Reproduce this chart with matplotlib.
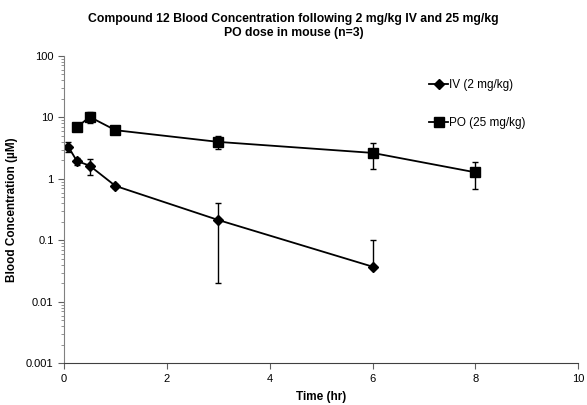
import matplotlib
matplotlib.use("Agg")
import matplotlib.pyplot as plt

plt.rcParams['font.family'] = ['Liberation Sans', 'DejaVu Sans']

# IV (2 mg/kg)
iv_time = [0.083, 0.25, 0.5, 1, 3, 6]
iv_conc = [3.35, 1.96, 1.64, 0.77, 0.215, 0.0375]
iv_err_low = [0.62, 0.27, 0.48, 0.05, 0.195, 0.0]
iv_err_high = [0.62, 0.27, 0.48, 0.05, 0.195, 0.065]

# PO (25 mg/kg)
po_time = [0.25, 0.5, 1, 3, 6, 8]
po_conc = [6.9, 10.2, 6.2, 4.0, 2.65, 1.28]
po_err = [0.3, 2.0, 0.4, 0.95, 1.2, 0.6]

fig = plt.figure(figsize=(5.87, 4.05), dpi=100)
ax = fig.add_axes([0.109, 0.1025, 0.876, 0.7595])

ax.errorbar(iv_time, iv_conc, yerr=[iv_err_low, iv_err_high], color='black',
            lw=1.3, marker='D', markersize=5, capsize=2.5, elinewidth=1,
            capthick=1, label='IV (2 mg/kg)')
ax.errorbar(po_time, po_conc, yerr=po_err, color='black', lw=1.3,
            marker='s', markersize=7, capsize=2.5, elinewidth=1,
            capthick=1, label='PO (25 mg/kg)')

ax.set_yscale('log')
ax.set_ylim(0.001, 100)
ax.set_xlim(0, 10)
ax.set_xticks([0, 2, 4, 6, 8, 10])
ax.set_yticks([0.001, 0.01, 0.1, 1, 10, 100])
ax.set_yticklabels(['0.001', '0.01', '0.1', '1', '10', '100'])

for side in ['top', 'right']:
    ax.spines[side].set_visible(False)
ax.spines['left'].set_color('#808080')
ax.spines['bottom'].set_color('#404040')
ax.tick_params(axis='both', labelsize=8, direction='out', length=4,
               color='#606060')
ax.tick_params(axis='y', which='minor', length=2.5, color='#808080')
ax.tick_params(axis='x', which='minor', bottom=False)

ax.set_xlabel('Time (hr)', fontsize=8.5, fontweight='bold', labelpad=5)
ax.set_ylabel('Blood Concentration (\u00b5M)', fontsize=8.5,
              fontweight='bold', labelpad=6)
fig.suptitle('Compound 12 Blood Concentration following 2 mg/kg IV and 25 mg/kg\n'
             'PO dose in mouse (n=3)', fontsize=8.8, fontweight='bold',
             y=0.968, linespacing=1.25)

handles, labels = ax.get_legend_handles_labels()
handles = [h[0] for h in handles]
ax.legend(handles, labels, loc='upper left', bbox_to_anchor=(0.69, 0.96),
          frameon=False, fontsize=8.5, labelspacing=2.2, handlelength=1.6,
          handletextpad=0.1)

fig.savefig('out.png', dpi=100)
